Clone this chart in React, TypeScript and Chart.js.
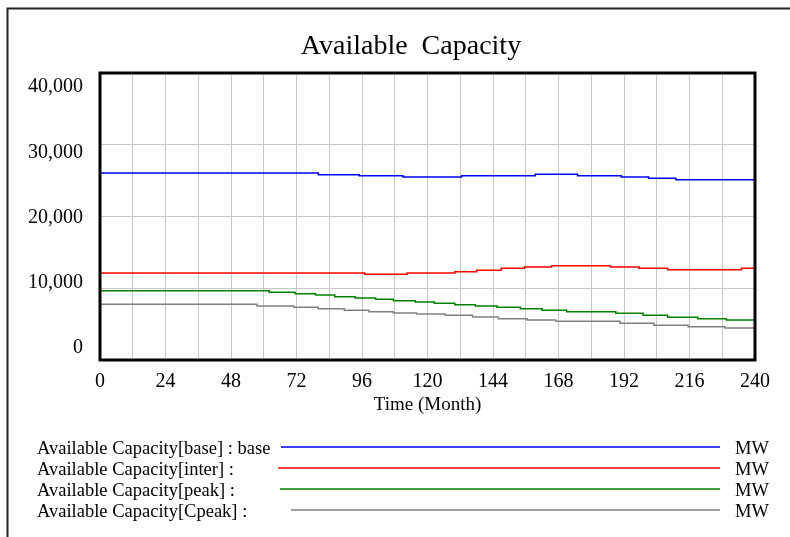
import React, { useEffect, useRef } from "react";
import { Chart, registerables } from "chart.js";

Chart.register(...registerables);

// ---- text ----
const CHART_TITLE = "Available  Capacity";
const X_TITLE = "Time (Month)";
const UNIT = "MW";
const SERIES_LABELS = [
  "Available Capacity[base] : base",
  "Available Capacity[inter] :",
  "Available Capacity[peak] :",
  "Available Capacity[Cpeak] :",
];

// ---- ticks ----
const X_TICKS = [0, 24, 48, 72, 96, 120, 144, 168, 192, 216, 240];
const Y_TICKS = [0, 10000, 20000, 30000, 40000];

// ---- data (step changes: month at which the value starts) ----
const baseMonths = [0, 80, 95, 111, 132.5, 159.5, 175, 191, 201, 211, 240];
const baseValues = [26060, 25830, 25690, 25500, 25690, 25880, 25690, 25500, 25320, 25130, 25130];

const interMonths = [0, 97, 112.5, 130, 138, 147, 155.5, 165.5, 187, 197.5, 208, 235, 240];
const interValues = [12130, 11940, 12130, 12310, 12500, 12780, 12960, 13150, 12960, 12780, 12590, 12780, 12780];

const peakMonths = [0, 62, 71.5, 79, 86, 93.5, 101, 107.5, 115.5, 122.5, 130, 137.5, 145.5, 154, 162, 171, 189, 199, 208, 219, 229.5, 240];
const peakValues = [9660, 9430, 9250, 9060, 8830, 8640, 8450, 8270, 8080, 7900, 7710, 7530, 7340, 7150, 6920, 6730, 6500, 6220, 5950, 5760, 5570, 5570];

const cpeakMonths = [0, 57.5, 71, 80, 89.5, 98.5, 107.5, 116, 126.5, 136.5, 146, 156.5, 167, 190.5, 203, 215.5, 229, 240];
const cpeakValues = [7760, 7530, 7340, 7150, 6920, 6730, 6550, 6410, 6220, 5990, 5760, 5570, 5390, 5110, 4830, 4650, 4460, 4460];

// ---- styles ----
const COLORS = ["#0000ff", "#ff0000", "#008000", "#808080"];
const LEGEND_LINE_START = [281, 278, 280, 291];
const FONT = "'Times New Roman', 'Liberation Serif', serif";

// layout
const PLOT_TOP = 73;
const PLOT_BOTTOM = 360;
const PLOT_LEFT = 100;
const PLOT_RIGHT = 755;
const W = 790;
const H = 537;
const X_AXIS_H = 56;
const PLOT_H = PLOT_BOTTOM - PLOT_TOP;
const LABEL_TOP_INSET = 14;
const LABEL_BOTTOM_INSET = 12;
const Y_MAX = Y_TICKS[Y_TICKS.length - 1];
const LABEL_SPAN = (Y_MAX * PLOT_H) / (PLOT_H - LABEL_TOP_INSET - LABEL_BOTTOM_INSET);
const LABEL_MIN = (-LABEL_BOTTOM_INSET / PLOT_H) * LABEL_SPAN;
const LABEL_MAX = LABEL_MIN + LABEL_SPAN;

function toPoints(xs: number[], ys: number[]) {
  return xs.map((x, i) => ({ x, y: ys[i] }));
}

const fmt = (v: number) => v.toLocaleString("en-US");

const decorPlugin = {
  id: "decor",
  beforeDraw(chart: any) {
    const ctx = chart.ctx;
    ctx.save();
    ctx.fillStyle = "#ffffff";
    ctx.fillRect(0, 0, W, H);
    ctx.strokeStyle = "#222222";
    ctx.lineWidth = 2;
    ctx.strokeRect(7.5, 8.5, W + 20, H + 20);
    ctx.restore();
  },
  afterDatasetsDraw(chart: any) {
    const { ctx, chartArea } = chart;
    ctx.save();
    ctx.strokeStyle = "#000000";
    ctx.lineWidth = 3;
    ctx.strokeRect(chartArea.left, chartArea.top, chartArea.right - chartArea.left, chartArea.bottom - chartArea.top);
    ctx.restore();
  },
  afterDraw(chart: any) {
    const ctx = chart.ctx;
    ctx.save();
    ctx.fillStyle = "#000000";
    ctx.font = `28px ${FONT}`;
    ctx.textAlign = "center";
    ctx.textBaseline = "alphabetic";
    ctx.fillText(CHART_TITLE, 411, 54);

    const rowY0 = 447;
    const rowStep = 21;
    chart.data.datasets.forEach((ds: any, i: number) => {
      const y = rowY0 + i * rowStep;
      ctx.font = `18.5px ${FONT}`;
      ctx.textAlign = "left";
      ctx.textBaseline = "middle";
      ctx.fillStyle = "#000000";
      ctx.fillText(ds.label, 37, y + 2);
      ctx.fillText(UNIT, 735, y + 2);
      ctx.strokeStyle = ds.borderColor;
      ctx.lineWidth = 1.5;
      ctx.beginPath();
      ctx.moveTo(LEGEND_LINE_START[i], y);
      ctx.lineTo(720, y);
      ctx.stroke();
    });
    ctx.restore();
  },
};

export default function App() {
  const ref = useRef<HTMLCanvasElement | null>(null);

  useEffect(() => {
    if (!ref.current) return;
    const series = [
      toPoints(baseMonths, baseValues),
      toPoints(interMonths, interValues),
      toPoints(peakMonths, peakValues),
      toPoints(cpeakMonths, cpeakValues),
    ];
    const chart = new Chart(ref.current, {
      type: "line",
      data: {
        datasets: series.map((data, i) => ({
          label: SERIES_LABELS[i],
          data,
          borderColor: COLORS[i],
          backgroundColor: COLORS[i],
          borderWidth: 1.5,
          pointRadius: 0,
          stepped: true,
          fill: false,
          yAxisID: "y",
        })),
      },
      options: {
        responsive: false,
        animation: false,
        devicePixelRatio: 1,
        layout: {
          padding: { top: PLOT_TOP, right: W - PLOT_RIGHT, bottom: H - PLOT_BOTTOM - X_AXIS_H, left: 0 },
        },
        plugins: {
          legend: { display: false },
          title: { display: false },
          tooltip: { enabled: false },
        },
        scales: {
          yl: {
            type: "linear",
            position: "left",
            min: LABEL_MIN,
            max: LABEL_MAX,
            grid: { display: false, drawTicks: false },
            border: { display: false },
            ticks: {
              padding: 17,
              color: "#000000",
              font: { family: FONT, size: 20 },
              callback: (v: any) => fmt(Number(v)),
            },
            afterBuildTicks: (s: any) => {
              s.ticks = Y_TICKS.map((v) => ({ value: v }));
            },
            afterFit: (s: any) => {
              s.width = PLOT_LEFT;
            },
          },
          y: {
            type: "linear",
            position: "left",
            min: 0,
            max: Y_MAX,
            grid: { color: "#c8c8c8", lineWidth: 1, drawTicks: false },
            border: { display: false },
            ticks: { display: false },
            afterBuildTicks: (s: any) => {
              s.ticks = Y_TICKS.map((v) => ({ value: v }));
            },
            afterFit: (s: any) => {
              s.width = 0;
            },
          },
          x: {
            type: "linear",
            position: "bottom",
            min: 0,
            max: 240,
            grid: { color: "#c8c8c8", lineWidth: 1, drawTicks: false },
            border: { display: false },
            ticks: {
              stepSize: 12,
              autoSkip: false,
              maxRotation: 0,
              padding: 10,
              color: "#000000",
              font: { family: FONT, size: 20 },
              callback: (v: any) => (X_TICKS.includes(Number(v)) ? String(v) : ""),
            },
            title: {
              display: true,
              text: X_TITLE,
              color: "#000000",
              font: { family: FONT, size: 19 },
              padding: 0,
            },
            afterFit: (s: any) => {
              s.height = X_AXIS_H;
            },
          },
        },
      },
      plugins: [decorPlugin],
    });
    return () => chart.destroy();
  }, []);

  return (
    <div style={{ position: "absolute", left: 0, top: 0, width: W, height: H, background: "#fff" }}>
      <canvas ref={ref} width={W} height={H} style={{ display: "block", width: W, height: H }} />
    </div>
  );
}
